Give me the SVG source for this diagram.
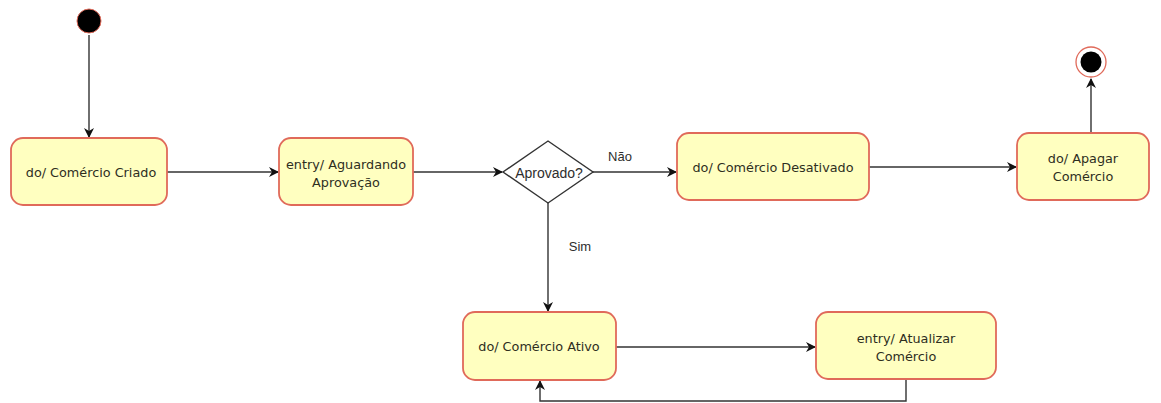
<svg xmlns="http://www.w3.org/2000/svg" width="1161" height="403" viewBox="0 0 1161 403">
<style>
.st{fill:#ffffc0;stroke:#e06a5a;stroke-width:1.8}
.t{font-family:"DejaVu Sans",Verdana,sans-serif;font-size:12.8px;fill:#2e2e1e;text-anchor:middle;dominant-baseline:central}
.l{font-family:"Liberation Sans",Arial,sans-serif;font-size:13px;fill:#2e2e2e;text-anchor:middle;dominant-baseline:central}
.c{fill:none;stroke:#333;stroke-width:1.4}
</style>
<defs>
<marker id="a" viewBox="0 0 10 10" refX="9" refY="5" markerWidth="10" markerHeight="10" markerUnits="userSpaceOnUse" orient="auto">
<path d="M0,0 L10,5 L0,10 L3,5 Z" fill="#111"/>
</marker>
</defs>
<rect width="1161" height="403" fill="#fff"/>
<g id="connectors">
<line class="c" x1="89" y1="35" x2="89" y2="137" marker-end="url(#a)"/>
<line class="c" x1="167" y1="172" x2="278" y2="172" marker-end="url(#a)"/>
<line class="c" x1="413" y1="172" x2="502" y2="172" marker-end="url(#a)"/>
<line class="c" x1="592" y1="172" x2="676" y2="172" marker-end="url(#a)"/>
<line class="c" x1="869" y1="167" x2="1016" y2="167" marker-end="url(#a)"/>
<line class="c" x1="1091" y1="133" x2="1091" y2="79" marker-end="url(#a)"/>
<line class="c" x1="548" y1="202" x2="548" y2="311" marker-end="url(#a)"/>
<line class="c" x1="616" y1="347" x2="815" y2="347" marker-end="url(#a)"/>
<polyline class="c" points="906,379 906,401 540,401 540,381" marker-end="url(#a)"/>
<text class="l" x="620" y="156">Não</text>
<text class="l" x="580" y="246">Sim</text>
</g>
<g id="start"><circle cx="89" cy="21" r="12" fill="#000" stroke="#e06a5a" stroke-width="1"/></g>
<g id="criado"><rect class="st" x="11" y="138" width="156" height="67" rx="12"/><text class="t" x="91" y="172">do/ Comércio Criado</text></g>
<g id="aguardando"><rect class="st" x="279" y="138" width="134" height="67" rx="12"/><text class="t" x="346" y="164">entry/ Aguardando</text><text class="t" x="346" y="182">Aprovação</text></g>
<g id="aprovado"><polygon points="548,141 593,172 548,203 503,172" fill="#fff" stroke="#333" stroke-width="1.4"/><text class="l" x="549" y="173" style="font-size:14px">Aprovado?</text></g>
<g id="desativado"><rect class="st" x="677" y="133" width="192" height="67" rx="12"/><text class="t" x="773" y="167">do/ Comércio Desativado</text></g>
<g id="apagar"><rect class="st" x="1017" y="133" width="132" height="67" rx="12"/><text class="t" x="1083" y="158">do/ Apagar</text><text class="t" x="1083" y="176">Comércio</text></g>
<g id="end"><circle cx="1091" cy="62" r="15" fill="#fff" stroke="#e06a5a" stroke-width="1.3"/><circle cx="1091" cy="62" r="10.5" fill="#000"/></g>
<g id="ativo"><rect class="st" x="463" y="312" width="153" height="68" rx="12"/><text class="t" x="539" y="346">do/ Comércio Ativo</text></g>
<g id="atualizar"><rect class="st" x="816" y="312" width="180" height="67" rx="12"/><text class="t" x="906" y="338">entry/ Atualizar</text><text class="t" x="906" y="356">Comércio</text></g>
</svg>
